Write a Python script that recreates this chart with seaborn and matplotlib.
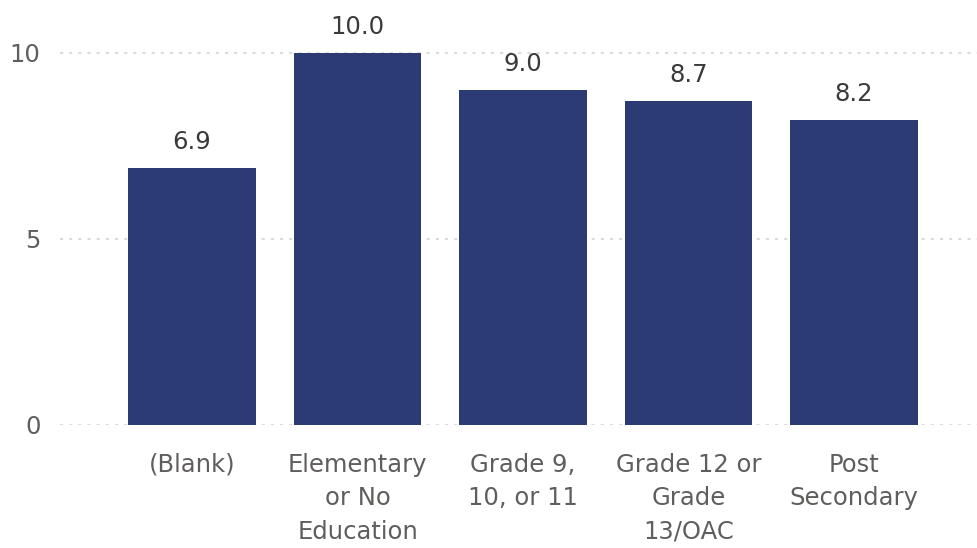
import matplotlib
matplotlib.use("Agg")
import matplotlib.pyplot as plt
import seaborn as sns
import pandas as pd

categories = ["(Blank)", "Elementary\nor No\nEducation", "Grade 9,\n10, or 11", "Grade 12 or\nGrade\n13/OAC", "Post\nSecondary"]
values = [6.9, 10.0, 9.0, 8.7, 8.2]
yticks = [0, 5, 10]

df = pd.DataFrame({"cat": categories, "val": values})

sns.set_theme(style="white")
plt.rcParams['font.family'] = ['DejaVu Sans']

W, H = 977, 548
fig = plt.figure(figsize=(W / 100, H / 100), dpi=100)
left, right, bottom, top = 60, 977, 425, 20
ax = fig.add_axes([left / W, 1 - bottom / H, (right - left) / W, (bottom - top) / H])

bar_color = "#2d3b75"
text_color = "#605e5c"
fs = 17.5

sns.barplot(data=df, x="cat", y="val", color=bar_color, width=0.773, ax=ax,
            saturation=1, edgecolor="none", zorder=3)

px_per_unit_x = 165.5
ax.set_xlim((left - 192) / px_per_unit_x, (right - 192) / px_per_unit_x)
ax.set_ylim(0, (bottom - top) / 37.2)

ax.set_yticks(yticks)
ax.set_yticklabels([str(t) for t in yticks])
for t in yticks:
    ax.axhline(t, color="#cfcfcf", linestyle=(0, (2, 4)), linewidth=1.1, zorder=1)

for sp in ax.spines.values():
    sp.set_visible(False)
ax.grid(False)
ax.set_xlabel("")
ax.set_ylabel("")
ax.tick_params(axis="y", length=0, pad=14, labelsize=fs, labelcolor=text_color)
ax.tick_params(axis="x", length=0, pad=20, labelsize=fs, labelcolor=text_color)
for lbl in ax.get_xticklabels():
    lbl.set_linespacing(1.5)

for i, v in enumerate(values):
    ax.annotate(f"{v:.1f}", (i, v), xytext=(0, 10), textcoords="offset points",
                ha="center", va="bottom", fontsize=fs, color="#3b3a39")

fig.savefig("out.png", dpi=100)
